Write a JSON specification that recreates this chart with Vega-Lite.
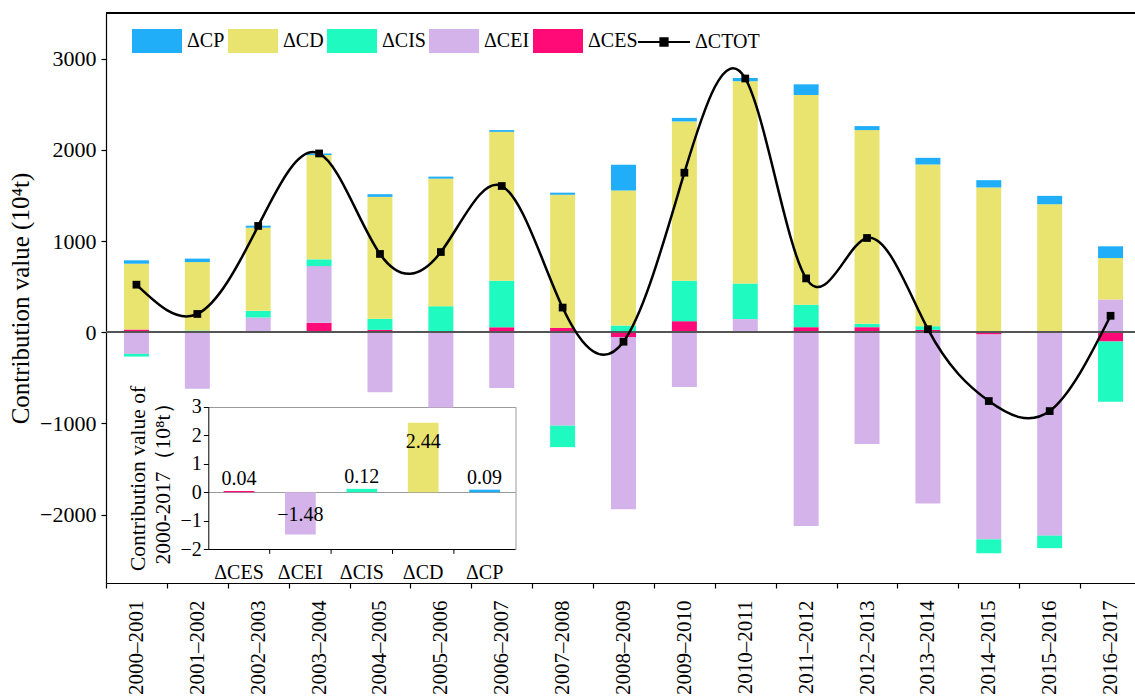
{
  "$schema": "https://vega.github.io/schema/vega-lite/v6.json",
  "width": 1029,
  "height": 570,
  "autosize": {"type": "none"},
  "padding": {"left": 106, "top": 13, "right": 0, "bottom": 117},
  "background": "white",
  "config": {
    "font": "Liberation Serif",
    "view": {"stroke": null},
    "axis": {
      "labelFont": "Liberation Serif",
      "titleFont": "Liberation Serif",
      "labelColor": "black",
      "titleColor": "black",
      "domainColor": "black",
      "tickColor": "black",
      "titleFontWeight": "normal",
      "grid": false
    },
    "legend": {"labelFont": "Liberation Serif", "labelColor": "black"}
  },
  "datasets": {
    "main": [
      {"period": "2000–2001", "ΔCP": 37, "ΔCD": 722, "ΔCIS": -29, "ΔCEI": -238, "ΔCES": 29, "ΔCTOT": 521},
      {"period": "2001–2002", "ΔCP": 38, "ΔCD": 750, "ΔCIS": 15, "ΔCEI": -620, "ΔCES": 4, "ΔCTOT": 200},
      {"period": "2002–2003", "ΔCP": 22, "ΔCD": 912, "ΔCIS": 73, "ΔCEI": 158, "ΔCES": 3, "ΔCTOT": 1165},
      {"period": "2003–2004", "ΔCP": 18, "ΔCD": 1143, "ΔCIS": 74, "ΔCEI": 622, "ΔCES": 103, "ΔCTOT": 1960},
      {"period": "2004–2005", "ΔCP": 29, "ΔCD": 1337, "ΔCIS": 121, "ΔCEI": -658, "ΔCES": 26, "ΔCTOT": 858},
      {"period": "2005–2006", "ΔCP": 22, "ΔCD": 1399, "ΔCIS": 282, "ΔCEI": -826, "ΔCES": 3, "ΔCTOT": 879},
      {"period": "2006–2007", "ΔCP": 19, "ΔCD": 1633, "ΔCIS": 510, "ΔCEI": -613, "ΔCES": 54, "ΔCTOT": 1603},
      {"period": "2007–2008", "ΔCP": 23, "ΔCD": 1461, "ΔCIS": -235, "ΔCEI": -1025, "ΔCES": 46, "ΔCTOT": 270},
      {"period": "2008–2009", "ΔCP": 283, "ΔCD": 1479, "ΔCIS": 74, "ΔCEI": -1888, "ΔCES": -52, "ΔCTOT": -104},
      {"period": "2009–2010", "ΔCP": 39, "ΔCD": 1747, "ΔCIS": 443, "ΔCEI": -601, "ΔCES": 121, "ΔCTOT": 1749},
      {"period": "2010–2011", "ΔCP": 36, "ΔCD": 2219, "ΔCIS": 389, "ΔCEI": 130, "ΔCES": 14, "ΔCTOT": 2782},
      {"period": "2011–2012", "ΔCP": 117, "ΔCD": 2300, "ΔCIS": 246, "ΔCEI": -2124, "ΔCES": 55, "ΔCTOT": 590},
      {"period": "2012–2013", "ΔCP": 44, "ΔCD": 2124, "ΔCIS": 37, "ΔCEI": -1226, "ΔCES": 55, "ΔCTOT": 1033},
      {"period": "2013–2014", "ΔCP": 73, "ΔCD": 1773, "ΔCIS": 40, "ΔCEI": -1879, "ΔCES": 26, "ΔCTOT": 33},
      {"period": "2014–2015", "ΔCP": 80, "ΔCD": 1587, "ΔCIS": -153, "ΔCEI": -2246, "ΔCES": -25, "ΔCTOT": -755},
      {"period": "2015–2016", "ΔCP": 92, "ΔCD": 1403, "ΔCIS": -137, "ΔCEI": -2226, "ΔCES": -5, "ΔCTOT": -865},
      {"period": "2016–2017", "ΔCP": 129, "ΔCD": 454, "ΔCIS": -660, "ΔCEI": 359, "ΔCES": -102, "ΔCTOT": 180}
    ],
    "inset": [
      {"factor": "ΔCES", "value": 0.04},
      {"factor": "ΔCEI", "value": -1.48},
      {"factor": "ΔCIS", "value": 0.12},
      {"factor": "ΔCD", "value": 2.44},
      {"factor": "ΔCP", "value": 0.09}
    ]
  },
  "layer": [
    {
      "data": {"name": "main"},
      "layer": [
        {
          "transform": [
            {"fold": ["ΔCES", "ΔCEI", "ΔCIS", "ΔCD", "ΔCP"], "as": ["factor", "value"]},
            {"calculate": "indexof(['ΔCES','ΔCEI','ΔCIS','ΔCD','ΔCP'], datum.factor)", "as": "ord"}
          ],
          "mark": {"type": "bar", "width": {"band": 0.41}},
          "encoding": {
            "x": {
              "field": "period", "type": "nominal", "sort": null,
              "scale": {"paddingInner": 0, "paddingOuter": 0, "range": [0, 1035]},
              "axis": {"orient": "bottom", "title": null, "labelAngle": -90, "labelFontSize": 21, "labelPadding": 12, "tickSize": 5, "tickBand": "extent", "domainWidth": 1.2, "tickWidth": 1.2}
            },
            "y": {
              "field": "value", "type": "quantitative", "stack": "zero",
              "title": "Contribution value (10⁴t)",
              "scale": {"domain": [-2750, 3500], "nice": false, "zero": false},
              "axis": {"orient": "left", "values": [-2000, -1000, 0, 1000, 2000, 3000], "format": "d", "labelFontSize": 22, "tickSize": 5, "labelPadding": 5, "titleFontSize": 25, "titlePadding": 6, "domainWidth": 1.2, "tickWidth": 1.2}
            },
            "color": {
              "field": "factor", "type": "nominal",
              "scale": {"domain": ["ΔCP", "ΔCD", "ΔCIS", "ΔCEI", "ΔCES"], "range": ["#1FAEF7", "#E9E46F", "#1EFAC0", "#D3B3EA", "#FF0A77"]},
              "legend": {"orient": "none", "legendX": 26, "legendY": 3, "direction": "horizontal", "title": null, "symbolType": "M-1,-0.48H1V0.48H-1Z", "symbolSize": 2500, "symbolStrokeWidth": 0, "symbolOpacity": 1, "labelFontSize": 20, "labelOffset": 5, "columnPadding": 3, "padding": 0}
            },
            "order": {"field": "ord", "type": "quantitative"}
          }
        },
        {"mark": {"type": "rule", "color": "#555", "strokeWidth": 1.5}, "encoding": {"y": {"datum": 0}}},
        {"mark": {"type": "rule", "color": "black", "strokeWidth": 1.2}, "encoding": {"y": {"datum": 3500}}},
        {
          "mark": {"type": "line", "interpolate": "natural", "strokeWidth": 2.5},
          "encoding": {
            "x": {"field": "period", "type": "nominal", "sort": null},
            "y": {"field": "ΔCTOT", "type": "quantitative", "title": "Contribution value (10⁴t)"},
            "stroke": {
              "datum": "ΔCTOT", "type": "nominal",
              "scale": {"range": ["black"]},
              "legend": {"orient": "none", "legendX": 531, "legendY": 2, "title": null, "symbolType": "M-1,0H1M-0.14,-0.14H0.14V0.14H-0.14Z", "symbolSize": 2704, "symbolStrokeWidth": 2, "symbolStrokeColor": "black", "symbolFillColor": "black", "labelFontSize": 20, "labelOffset": 4, "padding": 0,
                "encode": {"symbols": {"update": {"fill": {"value": "black"}, "stroke": {"value": "black"}}}}}
            }
          }
        },
        {
          "mark": {"type": "square", "size": 60, "color": "black", "opacity": 1},
          "encoding": {
            "x": {"field": "period", "type": "nominal", "sort": null},
            "y": {"field": "ΔCTOT", "type": "quantitative", "title": "Contribution value (10⁴t)"}
          }
        }
      ]
    },
    {
      "data": {"name": "inset"},
      "layer": [
        {
          "mark": {"type": "bar", "width": {"band": 0.5}},
          "encoding": {
            "x": {
              "field": "factor", "type": "nominal", "sort": ["ΔCES", "ΔCEI", "ΔCIS", "ΔCD", "ΔCP"],
              "scale": {"range": [102.3, 409.3], "paddingInner": 0, "paddingOuter": 0},
              "axis": null
            },
            "y": {
              "field": "value", "type": "quantitative",
              "scale": {"domain": [-2, 3], "nice": false, "zero": false, "range": [536.3, 393.7]},
              "axis": {
                "orient": "left", "offset": -102.3, "values": [-2, -1, 0, 1, 2, 3], "labelFontSize": 20, "tickSize": 5, "labelPadding": 2,
                "title": ["Contribution value of", "2000-2017（10⁸t）"], "titleFontSize": 21.5, "titleLineHeight": 25, "titlePadding": 6,
                "grid": true,
                "gridColor": {"condition": {"test": "datum.value === -2", "value": "black"}, "value": "#999"},
                "gridOpacity": {"condition": {"test": "datum.value === -2 || datum.value === 0 || datum.value === 3", "value": 1}, "value": 0}
              }
            },
            "color": {"field": "factor", "type": "nominal"}
          }
        },
        {
          "mark": {"type": "bar", "opacity": 0},
          "encoding": {
            "x": {"field": "factor", "type": "nominal", "sort": ["ΔCES", "ΔCEI", "ΔCIS", "ΔCD", "ΔCP"], "axis": null},
            "y": {"field": "value", "type": "quantitative", "axis": {"orient": "right", "offset": -619.5, "labels": false, "ticks": false, "title": null, "domainColor": "#999", "grid": false, "zindex": 1}}
          }
        },
        {
          "transform": [{"filter": "datum.factor !== 'ΔCES'"}],
          "mark": {"type": "rule", "color": "black", "strokeWidth": 1},
          "encoding": {
            "x": {"field": "factor", "type": "nominal", "sort": ["ΔCES", "ΔCEI", "ΔCIS", "ΔCD", "ΔCP"], "bandPosition": 0, "axis": null},
            "y": {"datum": -2, "axis": null},
            "y2": {"datum": -2.16}
          }
        },
        {
          "mark": {"type": "text", "baseline": "top", "dy": 14, "fontSize": 20, "font": "Liberation Serif", "color": "black"},
          "encoding": {
            "x": {"field": "factor", "type": "nominal", "sort": ["ΔCES", "ΔCEI", "ΔCIS", "ΔCD", "ΔCP"], "axis": null},
            "y": {"datum": -2, "axis": null},
            "text": {"field": "factor", "type": "nominal"}
          }
        },
        {
          "transform": [{"filter": "datum.value > 0 && datum.value < 1"}],
          "mark": {"type": "text", "baseline": "bottom", "dy": -2, "fontSize": 20, "font": "Liberation Serif", "color": "black"},
          "encoding": {
            "x": {"field": "factor", "type": "nominal", "sort": ["ΔCES", "ΔCEI", "ΔCIS", "ΔCD", "ΔCP"], "axis": null},
            "y": {"field": "value", "type": "quantitative", "axis": null},
            "text": {"field": "value", "type": "quantitative", "format": ".2f"}
          }
        },
        {
          "transform": [{"filter": "datum.value >= 1"}],
          "mark": {"type": "text", "baseline": "middle", "dy": 19, "fontSize": 20, "font": "Liberation Serif", "color": "black"},
          "encoding": {
            "x": {"field": "factor", "type": "nominal", "sort": ["ΔCES", "ΔCEI", "ΔCIS", "ΔCD", "ΔCP"], "axis": null},
            "y": {"field": "value", "type": "quantitative", "axis": null},
            "text": {"field": "value", "type": "quantitative", "format": ".2f"}
          }
        },
        {
          "transform": [{"filter": "datum.value < 0"}],
          "mark": {"type": "text", "baseline": "middle", "dy": -19, "fontSize": 20, "font": "Liberation Serif", "color": "black"},
          "encoding": {
            "x": {"field": "factor", "type": "nominal", "sort": ["ΔCES", "ΔCEI", "ΔCIS", "ΔCD", "ΔCP"], "axis": null},
            "y": {"field": "value", "type": "quantitative", "axis": null},
            "text": {"field": "value", "type": "quantitative", "format": ".2f"}
          }
        }
      ],
      "resolve": {"axis": {"y": "independent"}}
    }
  ],
  "resolve": {
    "scale": {"x": "independent", "y": "independent"},
    "axis": {"x": "independent", "y": "independent"}
  }
}
